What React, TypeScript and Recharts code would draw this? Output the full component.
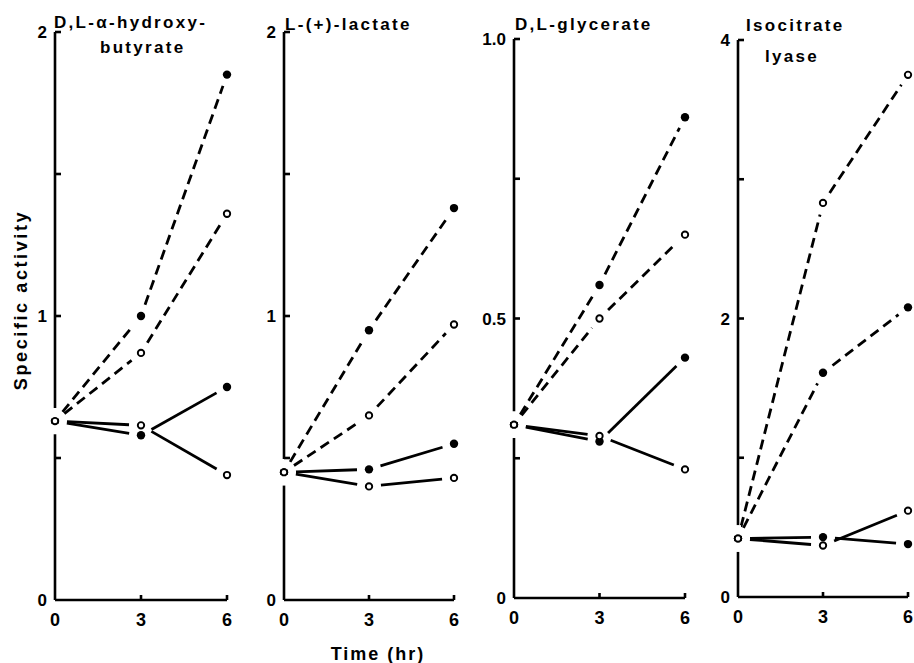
import React from "react";
import { ComposedChart, Scatter, XAxis, YAxis } from "recharts";

const hours = [0, 3, 6];

// D,L-α-hydroxybutyrate
const hbFilledDash = [0.63, 1.0, 1.85];
const hbOpenDash = [0.63, 0.87, 1.36];
const hbFilledSolid = [0.63, 0.58, 0.75];
const hbOpenSolid = [0.63, 0.615, 0.44];
const hbTicks = [0, 0.5, 1, 1.5, 2];
const hbLabels = [0, 1, 2];

// L-(+)-lactate
const lacFilledDash = [0.45, 0.95, 1.38];
const lacOpenDash = [0.45, 0.65, 0.97];
const lacFilledSolid = [0.45, 0.46, 0.55];
const lacOpenSolid = [0.45, 0.4, 0.43];
const lacTicks = [0, 0.5, 1, 1.5, 2];
const lacLabels = [0, 1, 2];

// D,L-glycerate
const glyFilledDash = [0.31, 0.56, 0.86];
const glyOpenDash = [0.31, 0.5, 0.65];
const glyFilledSolid = [0.31, 0.28, 0.43];
const glyOpenSolid = [0.31, 0.29, 0.23];
const glyTicks = [0, 0.25, 0.5, 0.75, 1];
const glyLabels = [0, 0.5, 1];

// isocitrate lyase
const iclFilledDash = [0.42, 1.61, 2.08];
const iclOpenDash = [0.42, 2.83, 3.75];
const iclFilledSolid = [0.42, 0.43, 0.38];
const iclOpenSolid = [0.42, 0.37, 0.62];
const iclTicks = [0, 1, 2, 3, 4];
const iclLabels = [0, 2, 4];

const FONT = '"Liberation Sans", Arial, sans-serif';
const H = 663;
const AXIS_W = 45;
const RIGHT = 15;
const GAP = 12; // the drawn lines stop short of each symbol, as in the original figure

interface Series {
  key: string;
  values: number[];
  filled: boolean;
  dashed: boolean;
}

interface PanelProps {
  axisX: number;
  plotW: number;
  top: number;
  bottom: number;
  yMax: number;
  yTicks: number[];
  yLabels: number[];
  fmt: (v: number) => string;
  series: Series[];
}

// joins the scatter points with segments that leave a gap round every symbol
function GappedLine({ points, dashed }: { points?: { x: number; y: number }[]; dashed: boolean }) {
  if (!points) return null;
  const segs = [];
  for (let i = 1; i < points.length; i++) {
    const a = points[i - 1];
    const b = points[i];
    const dx = b.x - a.x;
    const dy = b.y - a.y;
    const len = Math.hypot(dx, dy);
    if (len <= GAP * 2) continue;
    const ux = dx / len;
    const uy = dy / len;
    segs.push(
      <line
        key={i}
        x1={a.x + ux * GAP}
        y1={a.y + uy * GAP}
        x2={b.x - ux * GAP}
        y2={b.y - uy * GAP}
        stroke="#000"
        strokeWidth={2.8}
        strokeDasharray={dashed ? "10 6" : undefined}
      />
    );
  }
  return <g>{segs}</g>;
}

function Panel({ axisX, plotW, top, bottom, yMax, yTicks, yLabels, fmt, series }: PanelProps) {
  const data = hours.map((t, i) => {
    const row: Record<string, number> = { t };
    series.forEach((s) => (row[s.key] = s.values[i]));
    return row;
  });

  const xTick = (p: any) => {
    const { x, y, payload } = p;
    return (
      <g key={`xt-${payload.value}`}>
        {payload.value > 0 && (
          <line x1={x} y1={y} x2={x} y2={y - 5} stroke="#000" strokeWidth={2.6} />
        )}
        <text x={x} y={y + 26} textAnchor="middle" fontFamily={FONT} fontWeight="bold" fontSize={18} fill="#000">
          {payload.value}
        </text>
      </g>
    );
  };

  const yTick = (p: any) => {
    const { x, y, payload } = p;
    const v = payload.value as number;
    return (
      <g key={`yt-${v}`}>
        {v > 0 && <line x1={x} y1={y} x2={x + 6} y2={y} stroke="#000" strokeWidth={2.6} />}
        {yLabels.includes(v) && (
          <text x={x - 8} y={y + 6} textAnchor="end" fontFamily={FONT} fontWeight="bold" fontSize={17} fill="#000">
            {fmt(v)}
          </text>
        )}
      </g>
    );
  };

  return (
    <div style={{ position: "absolute", left: axisX - AXIS_W, top: 0 }}>
      <ComposedChart
        width={AXIS_W + plotW + RIGHT}
        height={H}
        data={data}
        margin={{ top, right: RIGHT, bottom: 0, left: 0 }}
      >
        <XAxis
          dataKey="t"
          type="number"
          domain={[0, 6]}
          ticks={hours}
          height={H - bottom}
          axisLine={{ stroke: "#000", strokeWidth: 2.6 }}
          tickLine={false}
          tickSize={0}
          tickMargin={0}
          tick={xTick}
          interval={0}
        />
        <YAxis
          type="number"
          domain={[0, yMax]}
          ticks={yTicks}
          width={AXIS_W}
          axisLine={{ stroke: "#000", strokeWidth: 2.6 }}
          tickLine={false}
          tickSize={0}
          tickMargin={0}
          tick={yTick}
          interval={0}
        />
        {series.map((s) => (
          <Scatter
            key={s.key}
            dataKey={s.key}
            isAnimationActive={false}
            line={(lp: any) => <GappedLine points={lp.points} dashed={s.dashed} />}
            shape={(p: any) => {
              // every series starts from the same sample, drawn as one open circle
              const start = !(p.payload && p.payload.t > 0);
              if (s.filled && !start) {
                return <circle cx={p.cx} cy={p.cy} r={4.2} fill="#000" />;
              }
              return (
                <g>
                  {start && (
                    <rect x={p.cx - 3} y={p.cy - 13} width={6} height={26} fill="#fff" />
                  )}
                  <circle cx={p.cx} cy={p.cy} r={3.2} fill="#fff" stroke="#000" strokeWidth={1.9} />
                </g>
              );
            }}
          />
        ))}
      </ComposedChart>
    </div>
  );
}

const mk = (fd: number[], od: number[], fs: number[], os: number[]): Series[] => [
  { key: "fd", values: fd, filled: true, dashed: true },
  { key: "od", values: od, filled: false, dashed: true },
  { key: "fs", values: fs, filled: true, dashed: false },
  { key: "os", values: os, filled: false, dashed: false },
];

const titleStyle = {
  fontFamily: FONT,
  fontWeight: "bold" as const,
  fontSize: 17,
  letterSpacing: 2.3,
  fill: "#000",
};

export default function App() {
  return (
    <div
      style={{
        position: "absolute",
        left: 0,
        top: 0,
        width: 914,
        height: H,
        overflow: "hidden",
        background: "#fff",
      }}
    >
      <Panel
        axisX={55}
        plotW={172}
        top={32}
        bottom={600}
        yMax={2}
        yTicks={hbTicks}
        yLabels={hbLabels}
        fmt={(v) => String(v)}
        series={mk(hbFilledDash, hbOpenDash, hbFilledSolid, hbOpenSolid)}
      />
      <Panel
        axisX={284}
        plotW={170}
        top={32}
        bottom={600}
        yMax={2}
        yTicks={lacTicks}
        yLabels={lacLabels}
        fmt={(v) => String(v)}
        series={mk(lacFilledDash, lacOpenDash, lacFilledSolid, lacOpenSolid)}
      />
      <Panel
        axisX={514}
        plotW={171}
        top={39}
        bottom={598}
        yMax={1}
        yTicks={glyTicks}
        yLabels={glyLabels}
        fmt={(v) => (v === 0 ? "0" : v.toFixed(1))}
        series={mk(glyFilledDash, glyOpenDash, glyFilledSolid, glyOpenSolid)}
      />
      <Panel
        axisX={738}
        plotW={170}
        top={40}
        bottom={597}
        yMax={4}
        yTicks={iclTicks}
        yLabels={iclLabels}
        fmt={(v) => String(v)}
        series={mk(iclFilledDash, iclOpenDash, iclFilledSolid, iclOpenSolid)}
      />
      <svg
        width={914}
        height={H}
        style={{ position: "absolute", left: 0, top: 0, pointerEvents: "none" }}
      >
        <text x={54} y={28} {...titleStyle}>D,L-α-hydroxy-</text>
        <text x={100} y={53} {...titleStyle}>butyrate</text>
        <text x={285} y={30} {...titleStyle}>L-(+)-lactate</text>
        <text x={515} y={30} {...titleStyle}>D,L-glycerate</text>
        <text x={746} y={31} {...titleStyle}>Isocitrate</text>
        <text x={765} y={62} {...titleStyle}>lyase</text>
        <text
          transform="translate(27,300) rotate(-90)"
          textAnchor="middle"
          {...titleStyle}
          fontSize={18}
          letterSpacing={2.6}
        >
          Specific activity
        </text>
        <text x={378} y={660} textAnchor="middle" {...titleStyle} fontSize={18} letterSpacing={2}>
          Time (hr)
        </text>
      </svg>
    </div>
  );
}
